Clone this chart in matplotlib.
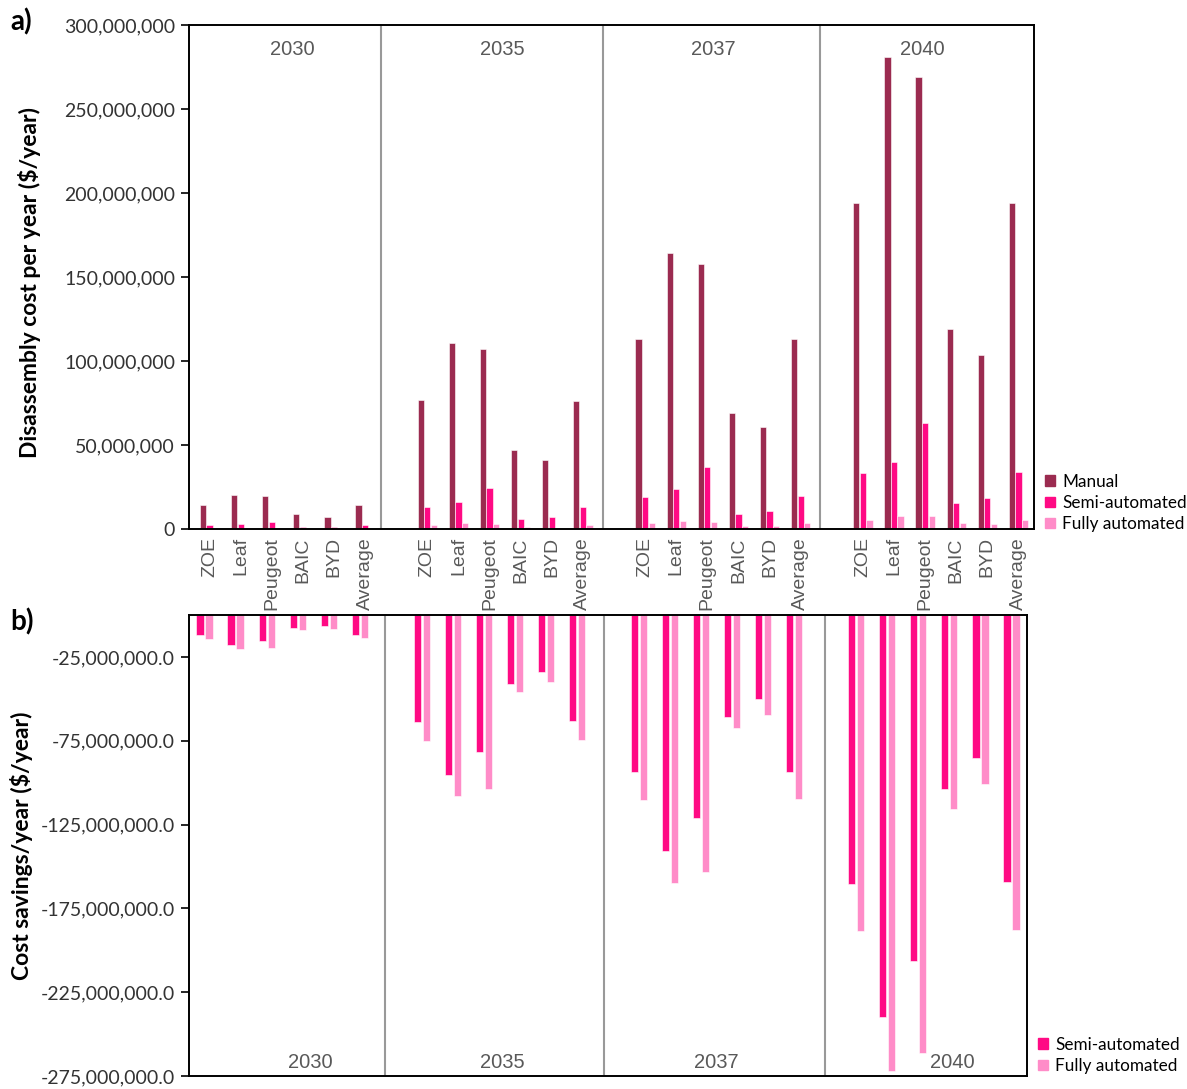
import matplotlib
matplotlib.use("Agg")
import matplotlib.pyplot as plt
import matplotlib.ticker as mticker
from matplotlib.patches import Patch

# values in millions of $/year
years = ['2030', '2035', '2037', '2040']
models = ['ZOE', 'Leaf', 'Peugeot', 'BAIC', 'BYD', 'Average']

manual = [[14.3, 20.4, 19.8, 8.7, 7.3, 14.3],
          [76.6, 110.7, 107.0, 47.0, 41.0, 76.4],
          [113.3, 164.3, 157.7, 69.2, 60.7, 113.3],
          [194.2, 281.2, 269.2, 118.9, 103.8, 193.9]]
semi = [[2.4, 2.8, 4.4, 0.9, 1.4, 2.4],
        [13.3, 15.9, 24.6, 5.7, 7.3, 13.3],
        [19.3, 23.6, 36.7, 8.7, 10.7, 19.8],
        [33.5, 40.0, 62.9, 15.3, 18.6, 33.9]]
full = [[0.4, 0.5, 0.6, 0.2, 0.2, 0.4],
        [2.2, 3.4, 2.8, 1.4, 0.6, 2.2],
        [3.4, 4.8, 4.2, 1.8, 1.8, 3.4],
        [5.4, 7.9, 7.9, 3.4, 3.0, 5.4]]

sav_semi = [[-11.8, -17.8, -15.4, -7.8, -6.3, -11.8],
            [-64.1, -95.3, -81.9, -41.0, -33.9, -63.5],
            [-93.7, -140.5, -120.8, -60.8, -50.1, -93.4],
            [-160.3, -240.0, -206.4, -103.7, -85.5, -159.3]]
sav_full = [[-14.4, -20.5, -19.5, -9.0, -8.1, -14.0],
            [-75.0, -108.0, -103.6, -46.0, -39.8, -74.4],
            [-110.5, -160.0, -153.4, -67.7, -59.4, -110.0],
            [-188.5, -272.0, -261.3, -115.5, -101.1, -188.0]]

c_man = '#9B2B50'
c_semi = '#FF0A84'
c_full = '#FF8CC8'
calibri = ['Lato', 'DejaVu Sans']
arial = ['Liberation Sans', 'DejaVu Sans']
grey = '#595959'

fig = plt.figure(figsize=(11.87, 10.89), dpi=100)
ax1 = fig.add_axes([189/1187, 1-529/1089, (1034-189)/1187, 504/1089])
ax2 = fig.add_axes([189/1187, 1-1076/1089, (1027-189)/1187, 461/1089])

# slot positions: 6 models per year, one blank slot between years
xs = []
for g in range(len(years)):
    xs.append([g*7 + m + 0.5 for m in range(len(models))])

M = 1e6
for g in range(len(years)):
    x = xs[g]
    ax1.bar([v - 0.21 for v in x], [v*M for v in manual[g]], 0.2, color=c_man, edgecolor='white', linewidth=0.4)
    ax1.bar(x, [v*M for v in semi[g]], 0.2, color=c_semi, edgecolor='white', linewidth=0.4)
    ax1.bar([v + 0.21 for v in x], [v*M for v in full[g]], 0.2, color=c_full, edgecolor='white', linewidth=0.4)
    ax2.bar([v - 0.145 for v in x], [v*M for v in sav_semi[g]], 0.23, color=c_semi, edgecolor='white', linewidth=0.4)
    ax2.bar([v + 0.145 for v in x], [v*M for v in sav_full[g]], 0.23, color=c_full, edgecolor='white', linewidth=0.4)

# top panel
ax1.set_xlim(-0.16, 27)
ax1.set_ylim(0, 300*M)
ax1.set_yticks([i*50*M for i in range(7)])
ax1.yaxis.set_major_formatter(mticker.FuncFormatter(lambda v, p: '{:,.0f}'.format(v)))
ax1.set_xticks([v for row in xs for v in row])
ax1.set_xticklabels(models*len(years), rotation=90, fontsize=14, color=grey, family=arial)
ax1.tick_params(axis='x', length=0, pad=6)
for x in [6.02, 13.15, 20.13]:
    ax1.axvline(x, color='#999999', lw=1.5)
for x, yr in zip([3.15, 9.9, 16.7, 23.4], years):
    ax1.text(x, 0.952, yr, transform=ax1.get_xaxis_transform(), ha='center', va='center',
             fontsize=14.5, color=grey, family=arial)

# bottom panel
ax2.set_xlim(0, 27)
ax2.set_ylim(-275*M, 0)
ax2.set_yticks([-25*M - i*50*M for i in range(6)])
ax2.yaxis.set_major_formatter(mticker.FuncFormatter(lambda v, p: '{:,.1f}'.format(v)))
ax2.set_xticks([])
for x in [6.31, 13.37, 20.5]:
    ax2.axvline(x, color='#999999', lw=1.5)
for x, yr in zip([3.9, 10.1, 17.0, 24.6], years):
    ax2.text(x, 0.03, yr, transform=ax2.get_xaxis_transform(), ha='center', va='center',
             fontsize=14.5, color=grey, family=arial)

for ax in (ax1, ax2):
    for s in ax.spines.values():
        s.set_color('black')
        s.set_linewidth(1.4)
    ax.tick_params(axis='y', length=6, width=1.2, labelsize=14, labelcolor='#333333', pad=4)
    for lab in ax.get_yticklabels():
        lab.set_family(calibri)

fig.text(30/1187, 1-282/1089, 'Disassembly cost per year ($/year)', rotation=90, ha='center', va='center',
         fontsize=16.5, fontweight='bold', family=calibri)
fig.text(22/1187, 1-846/1089, 'Cost savings/year ($/year)', rotation=90, ha='center', va='center',
         fontsize=16.5, fontweight='bold', family=calibri)
fig.text(10/1187, 1-22/1089, 'a)', fontsize=20, fontweight='bold', family=calibri, va='center')
fig.text(10/1187, 1-622/1089, 'b)', fontsize=20, fontweight='bold', family=calibri, va='center')

h1 = [Patch(color=c_man), Patch(color=c_semi), Patch(color=c_full)]
fig.legend(h1, ['Manual', 'Semi-automated', 'Fully automated'], loc='upper left',
           bbox_to_anchor=(1038/1187, 1-467/1089), frameon=False, prop={'family': calibri, 'size': 12.3},
           handlelength=0.6, handleheight=0.6, handletextpad=0.4, labelspacing=0.3, borderaxespad=0)
fig.legend(h1[1:], ['Semi-automated', 'Fully automated'], loc='upper left',
           bbox_to_anchor=(1031/1187, 1-1030/1089), frameon=False, prop={'family': calibri, 'size': 12.3},
           handlelength=0.6, handleheight=0.6, handletextpad=0.4, labelspacing=0.3, borderaxespad=0)

fig.savefig('out.png', dpi=100)
